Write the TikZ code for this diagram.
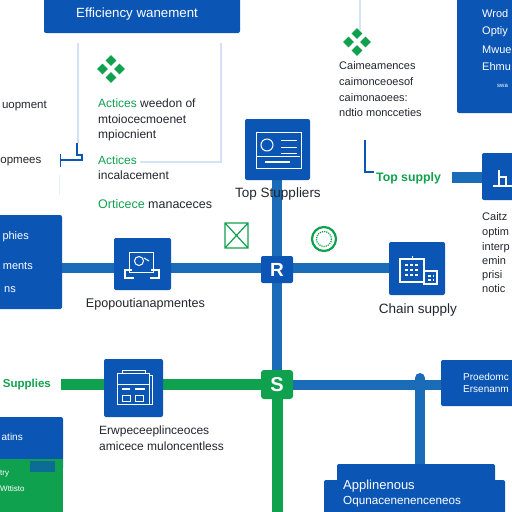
\documentclass[tikz,border=0pt]{standalone}
\usepackage{fontspec}
\setmainfont{Liberation Sans}
\definecolor{bx}{HTML}{0B55B4}
\definecolor{ln}{HTML}{1A6BB8}
\definecolor{grn}{HTML}{10A14E}
\definecolor{pale}{HTML}{D5E2F5}
\definecolor{ink}{HTML}{22262E}
\newcommand{\fs}[1]{\fontsize{#1}{#1}\selectfont}
\tikzset{
 blk/.style={fill=bx,draw=none,rounded corners=2pt,inner sep=0pt},
 gblk/.style={fill=grn,draw=none,rounded corners=3pt,inner sep=0pt},
 tx/.style={anchor=base west,inner sep=0pt,text=ink,font=\fs{12}},
 txr/.style={tx,anchor=base east},
 txc/.style={tx,anchor=base},
 wt/.style={text=white},
 gr/.style={text=grn},
 bl/.style={draw=ln,line width=10pt},
 gl/.style={draw=grn,line width=11pt},
 ic/.style={draw=white,line width=1pt},
 gem/.style={fill=grn,draw=none},
 pl/.style={draw=pale,line width=1.3pt},
 thinb/.style={draw=bx,line width=1.2pt}
}
\newcommand{\bxn}[6][blk]{\node[#1,minimum width=#4pt-#2pt,minimum height=#5pt-#3pt] (#6) at ({(#2+#4)/2},{(#3+#5)/2}) {};}
\newcommand{\gemset}[2]{\foreach \dx/\dy in {0/-8.5,0/8.5,-8.5/0,8.5/0}{\fill[gem,shift={(#1+\dx,#2+\dy)}] (0,-5.3)--(5.3,0)--(0,5.3)--(-5.3,0)--cycle;}}
\pgfdeclarelayer{conn}
\pgfsetlayers{conn,main}
\begin{document}
\begin{tikzpicture}[x=1pt,y=-1pt]
\useasboundingbox (0,0) rectangle (512,512);
\clip (0,0) rectangle (512,512);
% blocks
\bxn{44}{-6}{240}{33}{top}
\bxn{457}{-6}{530}{113}{topr}
\bxn{-10}{215}{62}{309}{left}
\bxn{114}{238}{171}{290}{icl}
\bxn{245}{119}{310}{180}{ics}
\bxn{261}{256}{293}{283}{rn}
\bxn{389}{242}{445}{295}{icc}
\bxn{482}{153}{530}{200}{rb}
\bxn[gblk]{261}{370}{293}{399}{sn}
\bxn{104}{359}{163}{417}{icd}
\bxn{441}{360}{530}{406}{pr}
\bxn{337}{464}{495}{490}{bt}
\bxn{324}{480}{505}{530}{bb}
\fill[bx,rounded corners=2pt] (-10,417) rectangle (63,470);
\fill[grn] (-10,459) rectangle (63,520);
\fill[bx!70!grn] (30,461) rectangle (55,472);
\coordinate (gstart) at (61,385);
\coordinate (gend) at (277,512);
\coordinate (jn) at (420,385);
\coordinate (ts) at (452,177);
\begin{pgfonlayer}{conn}
\fill[white] (0,0) rectangle (512,512);
\draw[bl] (left.east|-rn) ++(0,-1.5) -- ++(200,0);
\draw[bl] (rn.east) ++(0,-1.5) -- ++(100,0);
\draw[bl] (rn|-ics.south) -- (rn);
\draw[bl] (rn) -- (sn);
\draw[gl] (gstart|-sn) -- (sn);
\draw[gl] (sn) -- (sn|-gend);
\draw[bl] (sn) -- (pr.west|-sn);
\draw[bl,line cap=round] (jn) ++(0,-7) -- (bt.north-|jn);
\draw[bl,line width=11pt] (ts) -- (rb.west|-ts);
\end{pgfonlayer}
% pale frame
\draw[pl] (78,43) -- (78,143);
\draw[pl] (221,43) -- (221,162) -- (140,162);
\draw[pl] (360,0) -- (360,30);
\draw[pale!50,line width=1pt] (59,175) -- (59,195);
% thin blue marks
\draw[thinb] (77,143) -- (77,155) -- (82,155) -- (82,160) -- (60,160);
\draw[thinb] (60.5,154) -- (60.5,167);
\draw[thinb] (365,140) -- (365,172) -- (374,172);
% gems
\gemset{111}{69}
\gemset{357}{42}
% green square
\draw[draw=grn,line width=1.2pt] (225,223) rectangle (248,248) (225,223) -- (248,248) (248,223) -- (225,248);
% ring
\draw[grn,line width=2.2pt] (324,239) circle (12);
\draw[grn,line width=1.2pt,densely dotted] (324,239) circle (7.5);
% icon suppliers
\draw[ic] (256,132.5) rectangle (301,168);
\draw[ic] (267,145) circle (6);
\draw[ic] (281,140) -- (297,140) (281,147) -- (297,147) (281,153) -- (297,153) (257,156) -- (300,156);
\draw[white,line width=1.5pt] (265,162) -- (290,162);
% icon left
\draw[ic] (129,252) rectangle (153,272);
\draw[ic] (139,261) circle (4.5) (144,258) -- (149,261);
\draw[ic,line width=1.2pt] (132,270) -- (125,270) -- (125,278) -- (134,278) (151,270) -- (159,270) -- (159,278) -- (150,278);
% icon doc
\draw[ic] (117,373) rectangle (149,404) (117,384) -- (149,384) (122,373) -- (122,370) -- (145,370) -- (145,373) (149,375) -- (152,375) -- (152,404) -- (149,404);
\draw[ic,line width=1.4pt] (122,389) -- (130,389) (135,389) -- (145,389);
\draw[ic] (122,395) rectangle (130,401) (135,395) rectangle (143,401);
% icon chain
\draw[ic,line width=1.2pt] (400,259) rectangle (424,282) (424,271) rectangle (437,284);
\draw[ic,line width=1.4pt,densely dashed] (405,265) -- (419,265) (405,270) -- (419,270) (405,275) -- (419,275) (428,276) -- (434,276) (428,280) -- (434,280);
\draw[ic] (412,259) -- (412,256);
% icon h
\draw[ic,line width=1.2pt] (493,186) -- (512,186) (499,170) -- (499,186) (499,177) -- (506,177) -- (506,186);
% texts
\node[tx,wt,font=\fs{13.3}] (t1) at (76,17) {Efficiency wanement};
\node[txr,font=\fs{11.5}] (t2) at (47,108) {uopment};
\node[txr,font=\fs{11.5}] (t3) at (41.5,163) {opmees};
\node[tx] (t4) at (98,107) {{\color{grn}Actices} weedon of};
\node[tx] (t5) at (98,123) {mtoiocecmoenet};
\node[tx] (t6) at (98,138) {mpiocnient};
\node[tx,gr] (t7) at (98,164) {Actices};
\node[tx] (t8) at (98,179) {incalacement};
\node[tx,font=\fs{12.5}] (t9) at (98,208) {{\color{grn}Orticece} manaceces};
\node[txc,font=\fs{13.5}] (t10) at (278,197) {Top Stuppliers};
\node[tx,font=\fs{11}] (t11) at (339,69) {Caimeamences};
\node[tx,font=\fs{11}] (t12) at (339,85) {caimonceoesof};
\node[tx,font=\fs{11}] (t13) at (339,101) {caimonaoees:};
\node[tx,font=\fs{11}] (t14) at (339,116) {ndtio moncceties};
\node[tx,wt,font=\fs{11}] (t15) at (482,17) {Wrod};
\node[tx,wt,font=\fs{11}] (t16) at (482,34) {Optiy};
\node[tx,wt,font=\fs{11}] (t17) at (482,53) {Mwue};
\node[tx,wt,font=\fs{11}] (t18) at (482,70) {Ehmu};
\node[tx,wt,font=\fs{6}] (t19) at (497,87) {swa};
\node[tx,gr,font=\bfseries\fs{12.3}] (t20) at (376,181) {Top supply};
\node[tx,font=\fs{11}] (t21) at (482,220) {Caitz};
\node[tx,font=\fs{11}] (t22) at (482,235) {optim};
\node[tx,font=\fs{11}] (t23) at (482,250) {interp};
\node[tx,font=\fs{11}] (t24) at (482,264) {emin};
\node[tx,font=\fs{11}] (t25) at (482,278) {prisi};
\node[tx,font=\fs{11}] (t26) at (482,292) {notic};
\node[txr,wt,font=\fs{11}] (t27) at (29,239) {phies};
\node[txr,wt,font=\fs{11}] (t28) at (33,269) {ments};
\node[txr,wt,font=\fs{11}] (t29) at (16,292) {ns};
\node[txc,font=\fs{12.6}] (t30) at (145.5,307) {Epopoutianapmentes};
\node[txc,font=\fs{13.5}] (t31) at (418,313) {Chain supply};
\node[txr,gr,font=\bfseries\fs{11.5}] (t32) at (51,387) {Supplies};
\node[tx] (t33) at (99,434) {Erwpeceeplinceoces};
\node[tx] (t34) at (99,450) {amicece muloncentless};
\node[txr,wt,font=\fs{10}] (t35) at (23,440) {atins};
\node[tx,wt,font=\fs{8}] (t36) at (0,475) {try};
\node[tx,wt,font=\fs{8}] (t37) at (0,491) {Wttisto};
\node[tx,wt,font=\fs{10}] (t38) at (463,380) {Proedomc};
\node[tx,wt,font=\fs{10}] (t39) at (463,392) {Ersenanm};
\node[tx,wt,font=\fs{13}] (t40) at (343,489) {Applinenous};
\node[tx,wt,font=\fs{11.7}] (t41) at (343,504) {Oqunacenenenceneos};
\node[font=\bfseries\fs{19},text=white,inner sep=0pt] (rl) at (rn) {R};
\node[font=\bfseries\fs{20},text=white,inner sep=0pt] (sl) at (sn) {S};
\end{tikzpicture}
\end{document}
